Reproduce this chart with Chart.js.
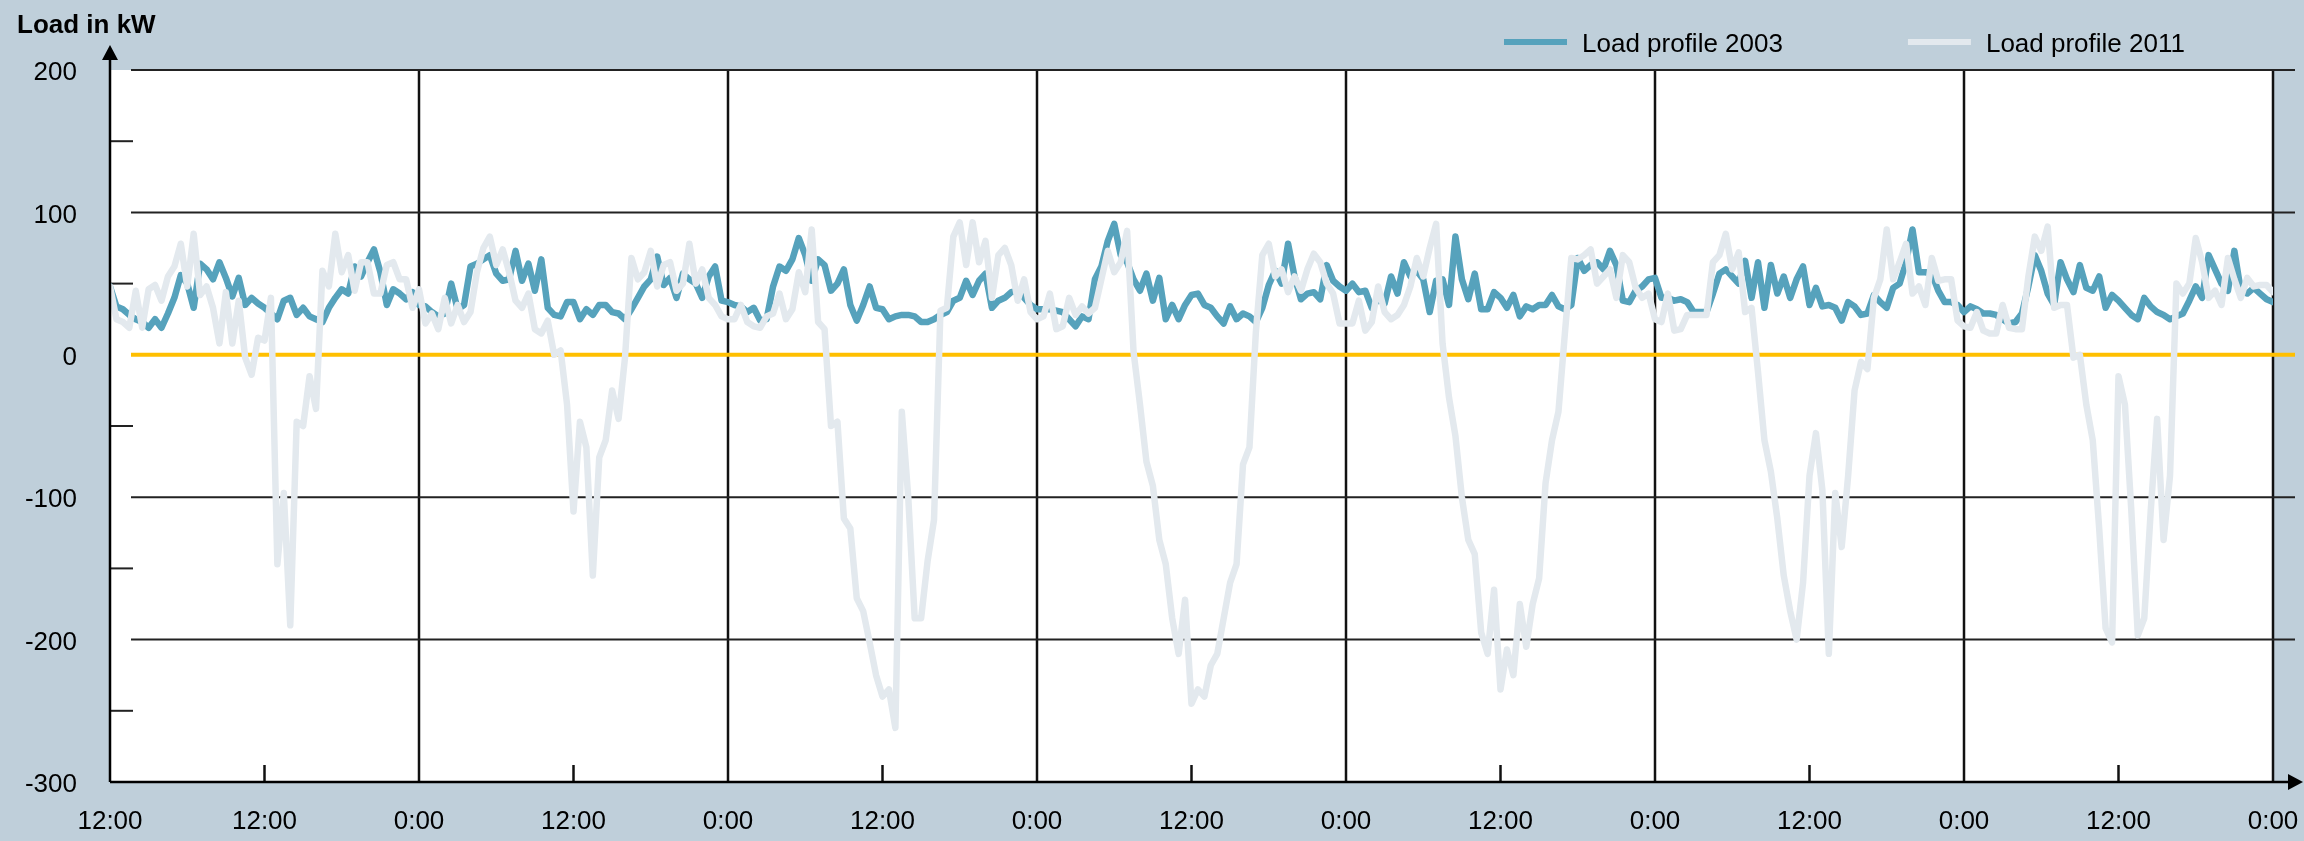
<!DOCTYPE html>
<html>
<head>
<meta charset="utf-8">
<title>Load profile 2003 vs 2011</title>
<script src="https://cdn.jsdelivr.net/npm/chart.js@4.4.1/dist/chart.umd.min.js"></script>
<style>
  html, body { margin: 0; padding: 0; background: #bfcfda; }
  #loadChart { display: block; width: 2304px; height: 841px; }
</style>
</head>
<body>
<canvas id="loadChart" width="2304" height="841"></canvas>
<script>
// one week, half-hourly readings, kW
const seriesNames = ['Load profile 2003', 'Load profile 2011'];
const xTickLabels = ['12:00', '12:00', '0:00', '12:00', '0:00', '12:00', '0:00', '12:00',
                     '0:00', '12:00', '0:00', '12:00', '0:00', '12:00', '0:00'];
const stepHours = 0.5;

const load2003 = [
  48,34,32,28,25,23,19,25,19,29,40,56,50,33,64,60,53,65,54,41,54,35,40,36,33,29,25,38,40,28,33,27,25,23,33,40,46,43,62,55,65,74,58,35,46,43,39,44,35,
  34,30,27,29,50,32,35,62,64,67,70,57,52,53,73,52,64,45,67,33,28,27,37,37,25,32,28,35,35,30,29,25,32,40,48,53,69,49,54,40,57,53,50,40,55,62,38,37,
  35,34,30,33,24,25,48,62,59,67,82,70,52,67,63,45,50,60,35,24,35,48,33,32,25,27,28,28,27,23,23,25,28,30,38,40,52,42,52,57,33,38,40,44,45,40,35,32,
  32,32,31,30,25,20,27,25,53,62,80,92,70,65,53,45,57,38,54,25,35,25,35,42,43,35,33,27,22,34,25,29,27,23,33,49,59,50,78,55,39,43,44,39,63,52,48,45,
  50,44,45,33,39,36,55,43,65,55,59,53,30,52,53,35,83,53,39,57,32,32,44,40,33,42,27,34,32,35,35,42,34,32,35,68,59,63,65,60,73,63,38,37,45,48,53,54,
  40,40,38,39,37,30,30,30,43,57,60,55,50,66,40,65,33,63,43,55,40,53,62,35,47,34,35,33,24,37,34,28,29,42,37,33,47,50,65,88,58,58,57,45,37,37,35,30,
  34,32,29,29,28,25,22,23,29,48,70,59,43,35,65,53,44,63,47,45,55,33,42,38,33,28,25,40,34,30,28,25,27,29,38,48,40,70,60,50,45,73,45,43,47,43,39,37
];

const load2011 = [
  48,25,23,19,45,19,46,49,38,55,62,78,48,85,42,48,33,8,44,8,38,-2,-14,12,10,40,-147,-97,-190,-47,-50,-15,-38,59,48,85,58,70,45,65,65,43,43,63,65,53,53,33,46,
  22,29,18,40,22,35,23,30,58,75,83,63,74,58,38,33,43,18,15,24,0,3,-35,-110,-47,-65,-155,-72,-60,-25,-45,-2,68,53,58,73,48,63,65,45,50,78,50,60,40,35,27,25,
  25,35,23,20,19,27,29,43,25,32,58,44,88,23,18,-50,-47,-115,-122,-171,-180,-202,-225,-240,-235,-262,-40,-100,-185,-185,-145,-116,31,33,83,93,63,93,65,80,40,70,75,63,38,53,30,25,
  27,43,18,20,40,28,34,29,33,53,73,58,65,87,2,-35,-75,-92,-130,-147,-185,-210,-172,-245,-235,-240,-218,-210,-185,-160,-147,-77,-65,16,70,78,55,60,44,55,45,60,71,65,50,43,22,22,
  22,38,17,23,48,30,25,28,35,48,68,55,75,92,8,-30,-57,-100,-130,-140,-195,-210,-165,-235,-207,-225,-175,-205,-175,-157,-90,-60,-40,15,68,67,70,74,50,55,60,40,70,65,47,40,43,25,
  23,43,17,18,28,28,28,28,65,70,85,60,72,30,33,-12,-60,-82,-115,-155,-180,-200,-160,-85,-55,-95,-210,-97,-135,-85,-25,-5,-10,40,53,88,53,65,78,43,48,35,68,52,53,53,24,20,
  19,30,17,15,15,35,19,18,18,55,83,73,90,33,35,35,-2,0,-35,-60,-122,-192,-202,-15,-35,-110,-197,-185,-110,-45,-130,-85,50,43,50,82,65,40,45,35,68,53,40,54,48,49,49,44
];

const BG = '#bfcfda';
const BLUE = '#56a2bc';
const GREY = '#e3e9ee';
const ZERO = '#ffbf00';
const FONT = "'Liberation Sans', Arial, Helvetica, sans-serif";

const toPoints = arr => arr.map((v, i) => ({ x: i * stepHours, y: v }));

const seg = (ctx, x1, y1, x2, y2) => {
    ctx.beginPath();
    ctx.moveTo(x1, y1);
    ctx.lineTo(x2, y2);
    ctx.stroke();
};

const decor = {
    id: 'decor',
    beforeDraw(chart) {
        const { ctx, chartArea: a } = chart;
        ctx.save();
        ctx.fillStyle = BG;
        ctx.fillRect(0, 0, chart.width, chart.height);
        ctx.fillStyle = '#ffffff';
        ctx.fillRect(a.left, a.top, a.right - a.left, a.bottom - a.top);
        ctx.restore();
    },
    beforeDatasetsDraw(chart) {
        const { ctx, chartArea: a, scales: { x, y } } = chart;
        ctx.save();

        // midnight lines
        ctx.strokeStyle = '#111';
        ctx.lineWidth = 2.5;
        for (let h = 24; h <= 168; h += 24) {
            const px = x.getPixelForValue(h);
            seg(ctx, px, a.top, px, a.bottom);
        }
        // noon ticks
        for (let h = 12; h < 168; h += 24) {
            const px = x.getPixelForValue(h);
            seg(ctx, px, a.bottom - 17, px, a.bottom);
        }

        // horizontal grid, shifted a bit right like the original
        ctx.strokeStyle = '#222';
        ctx.lineWidth = 2;
        [200, 100, -100, -200].forEach(v => {
            const py = y.getPixelForValue(v);
            seg(ctx, a.left + 21, py, a.right + 22, py);
        });
        [150, 50, -50, -150, -250].forEach(v => {
            const py = y.getPixelForValue(v);
            seg(ctx, a.left, py, a.left + 23, py);
        });

        // zero line
        ctx.strokeStyle = ZERO;
        ctx.lineWidth = 4;
        const y0 = y.getPixelForValue(0);
        seg(ctx, a.left + 21, y0, a.right + 22, y0);
        ctx.restore();
    },
    afterDatasetsDraw(chart) {
        const { ctx, chartArea: a } = chart;
        ctx.save();
        ctx.strokeStyle = '#000';
        ctx.fillStyle = '#000';
        ctx.lineWidth = 2.5;
        seg(ctx, a.left, 58, a.left, a.bottom);
        seg(ctx, a.left, a.bottom, chart.width - 16, a.bottom);

        ctx.beginPath();
        ctx.moveTo(a.left, 45);
        ctx.lineTo(a.left - 8, 60);
        ctx.lineTo(a.left + 8, 60);
        ctx.closePath();
        ctx.fill();

        ctx.beginPath();
        ctx.moveTo(chart.width - 1, a.bottom);
        ctx.lineTo(chart.width - 16, a.bottom - 8);
        ctx.lineTo(chart.width - 16, a.bottom + 8);
        ctx.closePath();
        ctx.fill();
        ctx.restore();
    },
    afterDraw(chart) {
        const { ctx } = chart;
        ctx.save();
        ctx.fillStyle = '#000';
        ctx.textBaseline = 'alphabetic';
        ctx.textAlign = 'left';
        ctx.font = `bold 26px ${FONT}`;
        ctx.fillText('Load in kW', 17, 33);

        // legend
        ctx.font = `26px ${FONT}`;
        let lx = 1504;
        chart.data.datasets.forEach(ds => {
            ctx.strokeStyle = ds.borderColor;
            ctx.lineWidth = 6;
            ctx.lineCap = 'butt';
            seg(ctx, lx, 42, lx + 63, 42);
            ctx.fillStyle = '#000';
            ctx.fillText(ds.label, lx + 78, 52);
            lx += 78 + ctx.measureText(ds.label).width + 125;
        });
        ctx.restore();
    }
};

const zeroPadding = s => {
    s.paddingLeft = 0;
    s.paddingRight = 0;
    s.paddingTop = 0;
    s.paddingBottom = 0;
};

new Chart(document.getElementById('loadChart').getContext('2d'), {
    type: 'line',
    data: {
        datasets: [{
            label: seriesNames[0],
            data: toPoints(load2003),
            borderColor: BLUE,
            borderWidth: 6.5,
            order: 1
        }, {
            label: seriesNames[1],
            data: toPoints(load2011),
            borderColor: GREY,
            borderWidth: 6.5,
            order: 0
        }]
    },
    options: {
        responsive: false,
        devicePixelRatio: 1,
        animation: false,
        parsing: false,
        layout: { padding: { top: 70, right: 31, bottom: 0, left: 0 } },
        elements: {
            point: { radius: 0 },
            line: { tension: 0, borderJoinStyle: 'round', borderCapStyle: 'round', fill: false }
        },
        plugins: {
            legend: { display: false },
            tooltip: { enabled: false }
        },
        scales: {
            x: {
                type: 'linear',
                min: 0,
                max: 168,
                grid: { display: false },
                border: { display: false },
                afterFit: s => { s.height = 59; zeroPadding(s); },
                ticks: {
                    stepSize: 12,
                    autoSkip: false,
                    maxRotation: 0,
                    padding: 16,
                    color: '#000',
                    font: { family: FONT, size: 26 },
                    callback: (v, i) => xTickLabels[i]
                }
            },
            y: {
                min: -300,
                max: 200,
                grid: { display: false },
                border: { display: false },
                afterFit: s => { s.width = 110; zeroPadding(s); },
                ticks: {
                    stepSize: 100,
                    padding: 25,
                    labelOffset: 3,
                    color: '#000',
                    font: { family: FONT, size: 26 }
                }
            }
        }
    },
    plugins: [decor]
});
</script>
</body>
</html>
